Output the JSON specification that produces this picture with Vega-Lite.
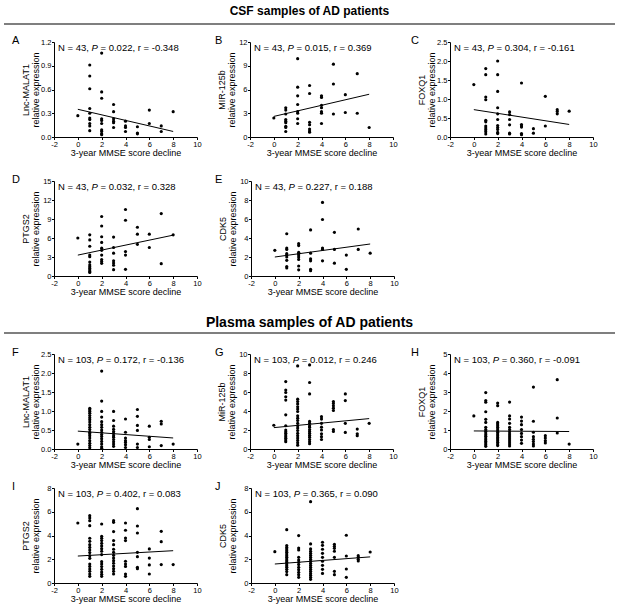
{
"$schema": "https://vega.github.io/schema/vega-lite/v6.json",
"padding": {"left": 3, "right": 3, "top": 5, "bottom": 0},
"background": "white",
"config": {
  "font": "Liberation Sans",
  "view": {"stroke": null},
  "axis": {"grid": false, "domainColor": "black", "tickColor": "black", "labelColor": "black", "titleColor": "black", "labelFontSize": 7.5, "titleFontSize": 9, "titleFontWeight": "normal", "tickSize": 2.5, "domainWidth": 1, "tickWidth": 1, "labelPadding": 0.5, "labelFlush": false, "labelOverlap": false, "tickCount": 20},
  "axisX": {"titlePadding": 1},
  "axisY": {"titleX": -24, "titleLineHeight": 10},
  "title": {"anchor": "start", "frame": "bounds", "fontSize": 11, "fontWeight": "normal", "color": "black", "dx": -2, "offset": -8},
  "text": {"font": "Liberation Sans", "fontSize": 9.5, "color": "black"}
},
"datasets": {
  "pts": [
    {"p":"A","x":0,"y":0.27},{"p":"A","x":1,"y":0.91},{"p":"A","x":1,"y":0.77},{"p":"A","x":1,"y":0.61},{"p":"A","x":1,"y":0.36},{"p":"A","x":1,"y":0.30},{"p":"A","x":1,"y":0.24},{"p":"A","x":1,"y":0.22},{"p":"A","x":1,"y":0.17},{"p":"A","x":1,"y":0.14},{"p":"A","x":1,"y":0.08},
    {"p":"A","x":2,"y":1.06},{"p":"A","x":2,"y":0.57},{"p":"A","x":2,"y":0.49},{"p":"A","x":2,"y":0.23},{"p":"A","x":2,"y":0.21},{"p":"A","x":2,"y":0.17},{"p":"A","x":2,"y":0.09},{"p":"A","x":2,"y":0.07},{"p":"A","x":2,"y":0.04},{"p":"A","x":2,"y":0.03},
    {"p":"A","x":3,"y":0.41},{"p":"A","x":3,"y":0.32},{"p":"A","x":3,"y":0.23},{"p":"A","x":3,"y":0.20},{"p":"A","x":3,"y":0.18},{"p":"A","x":3,"y":0.12},
    {"p":"A","x":4,"y":0.20},{"p":"A","x":4,"y":0.14},{"p":"A","x":4,"y":0.12},{"p":"A","x":4,"y":0.07},
    {"p":"A","x":5,"y":0.13},{"p":"A","x":5,"y":0.05},{"p":"A","x":5,"y":0.04},{"p":"A","x":6,"y":0.34},{"p":"A","x":6,"y":0.17},{"p":"A","x":7,"y":0.14},{"p":"A","x":7,"y":0.07},{"p":"A","x":8,"y":0.32},

    {"p":"B","x":0,"y":2.4},{"p":"B","x":1,"y":3.7},{"p":"B","x":1,"y":3.4},{"p":"B","x":1,"y":2.9},{"p":"B","x":1,"y":2.2},{"p":"B","x":1,"y":2.0},{"p":"B","x":1,"y":1.8},{"p":"B","x":1,"y":1.35},{"p":"B","x":1,"y":1.2},{"p":"B","x":1,"y":0.7},
    {"p":"B","x":2,"y":9.9},{"p":"B","x":2,"y":6.3},{"p":"B","x":2,"y":5.2},{"p":"B","x":2,"y":4.1},{"p":"B","x":2,"y":3.2},{"p":"B","x":2,"y":3.0},{"p":"B","x":2,"y":2.3},{"p":"B","x":2,"y":1.7},
    {"p":"B","x":3,"y":6.5},{"p":"B","x":3,"y":5.5},{"p":"B","x":3,"y":1.85},{"p":"B","x":3,"y":1.55},{"p":"B","x":3,"y":1.0},{"p":"B","x":3,"y":0.75},{"p":"B","x":3,"y":0.6},
    {"p":"B","x":4,"y":5.2},{"p":"B","x":4,"y":5.0},{"p":"B","x":4,"y":4.0},{"p":"B","x":4,"y":3.7},{"p":"B","x":4,"y":3.2},{"p":"B","x":4,"y":3.0},{"p":"B","x":4,"y":1.7},
    {"p":"B","x":5,"y":9.2},{"p":"B","x":5,"y":6.7},{"p":"B","x":5,"y":2.9},{"p":"B","x":6,"y":5.35},{"p":"B","x":6,"y":3.1},{"p":"B","x":7,"y":8.0},{"p":"B","x":7,"y":3.0},{"p":"B","x":8,"y":1.2},

    {"p":"C","x":0,"y":1.38},{"p":"C","x":1,"y":1.8},{"p":"C","x":1,"y":1.64},{"p":"C","x":1,"y":1.05},{"p":"C","x":1,"y":0.98},{"p":"C","x":1,"y":0.44},{"p":"C","x":1,"y":0.40},{"p":"C","x":1,"y":0.29},{"p":"C","x":1,"y":0.24},{"p":"C","x":1,"y":0.19},{"p":"C","x":1,"y":0.14},{"p":"C","x":1,"y":0.08},
    {"p":"C","x":2,"y":2.0},{"p":"C","x":2,"y":1.64},{"p":"C","x":2,"y":1.2},{"p":"C","x":2,"y":0.77},{"p":"C","x":2,"y":0.61},{"p":"C","x":2,"y":0.46},{"p":"C","x":2,"y":0.30},{"p":"C","x":2,"y":0.25},{"p":"C","x":2,"y":0.20},{"p":"C","x":2,"y":0.12},{"p":"C","x":2,"y":0.09},
    {"p":"C","x":3,"y":0.66},{"p":"C","x":3,"y":0.59},{"p":"C","x":3,"y":0.46},{"p":"C","x":3,"y":0.32},{"p":"C","x":3,"y":0.10},{"p":"C","x":3,"y":0.08},
    {"p":"C","x":4,"y":1.42},{"p":"C","x":4,"y":0.33},{"p":"C","x":4,"y":0.29},{"p":"C","x":4,"y":0.26},{"p":"C","x":4,"y":0.09},{"p":"C","x":4,"y":0.06},
    {"p":"C","x":5,"y":0.22},{"p":"C","x":5,"y":0.10},{"p":"C","x":6,"y":1.07},{"p":"C","x":6,"y":0.29},{"p":"C","x":7,"y":0.72},{"p":"C","x":7,"y":0.67},{"p":"C","x":7,"y":0.61},{"p":"C","x":8,"y":0.68},

    {"p":"D","x":0,"y":6.0},{"p":"D","x":1,"y":6.5},{"p":"D","x":1,"y":5.7},{"p":"D","x":1,"y":4.7},{"p":"D","x":1,"y":3.3},{"p":"D","x":1,"y":3.05},{"p":"D","x":1,"y":2.2},{"p":"D","x":1,"y":1.75},{"p":"D","x":1,"y":1.45},{"p":"D","x":1,"y":1.2},{"p":"D","x":1,"y":0.95},{"p":"D","x":1,"y":0.7},{"p":"D","x":1,"y":0.55},
    {"p":"D","x":2,"y":9.4},{"p":"D","x":2,"y":7.9},{"p":"D","x":2,"y":6.2},{"p":"D","x":2,"y":5.3},{"p":"D","x":2,"y":4.4},{"p":"D","x":2,"y":4.05},{"p":"D","x":2,"y":3.3},{"p":"D","x":2,"y":2.6},{"p":"D","x":2,"y":2.3},{"p":"D","x":2,"y":2.0},
    {"p":"D","x":3,"y":6.15},{"p":"D","x":3,"y":4.5},{"p":"D","x":3,"y":3.6},{"p":"D","x":3,"y":2.4},{"p":"D","x":3,"y":2.05},{"p":"D","x":3,"y":1.7},{"p":"D","x":3,"y":1.0},
    {"p":"D","x":4,"y":10.5},{"p":"D","x":4,"y":8.8},{"p":"D","x":4,"y":3.85},{"p":"D","x":4,"y":3.3},{"p":"D","x":4,"y":1.05},
    {"p":"D","x":5,"y":7.7},{"p":"D","x":5,"y":6.6},{"p":"D","x":5,"y":5.0},{"p":"D","x":6,"y":6.6},{"p":"D","x":6,"y":4.5},{"p":"D","x":7,"y":9.85},{"p":"D","x":7,"y":1.95},{"p":"D","x":8,"y":6.5},

    {"p":"E","x":0,"y":2.7},{"p":"E","x":1,"y":4.45},{"p":"E","x":1,"y":2.95},{"p":"E","x":1,"y":2.8},{"p":"E","x":1,"y":2.35},{"p":"E","x":1,"y":2.2},{"p":"E","x":1,"y":2.0},{"p":"E","x":1,"y":1.65},{"p":"E","x":1,"y":1.0},{"p":"E","x":1,"y":0.85},
    {"p":"E","x":2,"y":3.4},{"p":"E","x":2,"y":3.2},{"p":"E","x":2,"y":2.5},{"p":"E","x":2,"y":2.35},{"p":"E","x":2,"y":2.2},{"p":"E","x":2,"y":2.0},{"p":"E","x":2,"y":1.75},{"p":"E","x":2,"y":1.05},{"p":"E","x":2,"y":0.65},
    {"p":"E","x":3,"y":4.85},{"p":"E","x":3,"y":2.4},{"p":"E","x":3,"y":1.8},{"p":"E","x":3,"y":1.6},{"p":"E","x":3,"y":0.7},{"p":"E","x":3,"y":0.55},
    {"p":"E","x":4,"y":7.75},{"p":"E","x":4,"y":5.95},{"p":"E","x":4,"y":2.95},{"p":"E","x":4,"y":2.8},{"p":"E","x":4,"y":1.6},
    {"p":"E","x":5,"y":4.6},{"p":"E","x":5,"y":2.8},{"p":"E","x":5,"y":1.35},{"p":"E","x":6,"y":2.2},{"p":"E","x":6,"y":0.7},{"p":"E","x":7,"y":4.95},{"p":"E","x":7,"y":2.8},{"p":"E","x":8,"y":2.4},

    {"p":"F","x":0,"y":0.13},
    {"p":"F","x":1,"y":1.07},{"p":"F","x":1,"y":1.03},{"p":"F","x":1,"y":0.99},{"p":"F","x":1,"y":0.94},{"p":"F","x":1,"y":0.88},{"p":"F","x":1,"y":0.82},{"p":"F","x":1,"y":0.77},{"p":"F","x":1,"y":0.71},{"p":"F","x":1,"y":0.64},{"p":"F","x":1,"y":0.57},{"p":"F","x":1,"y":0.51},{"p":"F","x":1,"y":0.44},{"p":"F","x":1,"y":0.40},{"p":"F","x":1,"y":0.35},{"p":"F","x":1,"y":0.29},{"p":"F","x":1,"y":0.22},{"p":"F","x":1,"y":0.15},{"p":"F","x":1,"y":0.09},{"p":"F","x":1,"y":0.03},
    {"p":"F","x":2,"y":2.05},{"p":"F","x":2,"y":1.26},{"p":"F","x":2,"y":0.99},{"p":"F","x":2,"y":0.84},{"p":"F","x":2,"y":0.72},{"p":"F","x":2,"y":0.64},{"p":"F","x":2,"y":0.57},{"p":"F","x":2,"y":0.50},{"p":"F","x":2,"y":0.44},{"p":"F","x":2,"y":0.38},{"p":"F","x":2,"y":0.33},{"p":"F","x":2,"y":0.27},{"p":"F","x":2,"y":0.20},{"p":"F","x":2,"y":0.13},{"p":"F","x":2,"y":0.06},{"p":"F","x":2,"y":0.02},
    {"p":"F","x":3,"y":0.99},{"p":"F","x":3,"y":0.75},{"p":"F","x":3,"y":0.60},{"p":"F","x":3,"y":0.52},{"p":"F","x":3,"y":0.46},{"p":"F","x":3,"y":0.41},{"p":"F","x":3,"y":0.35},{"p":"F","x":3,"y":0.31},{"p":"F","x":3,"y":0.25},{"p":"F","x":3,"y":0.19},{"p":"F","x":3,"y":0.13},{"p":"F","x":3,"y":0.07},
    {"p":"F","x":4,"y":0.79},{"p":"F","x":4,"y":0.44},{"p":"F","x":4,"y":0.29},{"p":"F","x":4,"y":0.22},{"p":"F","x":4,"y":0.17},{"p":"F","x":4,"y":0.11},{"p":"F","x":4,"y":0.04},
    {"p":"F","x":5,"y":1.04},{"p":"F","x":5,"y":0.86},{"p":"F","x":5,"y":0.62},{"p":"F","x":5,"y":0.49},{"p":"F","x":5,"y":0.13},{"p":"F","x":5,"y":0.04},
    {"p":"F","x":6,"y":0.60},{"p":"F","x":6,"y":0.31},{"p":"F","x":6,"y":0.25},{"p":"F","x":6,"y":0.06},{"p":"F","x":7,"y":0.73},{"p":"F","x":7,"y":0.66},{"p":"F","x":7,"y":0.09},{"p":"F","x":8,"y":0.13},

    {"p":"G","x":0,"y":2.5},
    {"p":"G","x":1,"y":7.1},{"p":"G","x":1,"y":6.2},{"p":"G","x":1,"y":5.95},{"p":"G","x":1,"y":5.5},{"p":"G","x":1,"y":5.15},{"p":"G","x":1,"y":3.6},{"p":"G","x":1,"y":2.45},{"p":"G","x":1,"y":2.0},{"p":"G","x":1,"y":1.82},{"p":"G","x":1,"y":1.65},{"p":"G","x":1,"y":1.47},{"p":"G","x":1,"y":1.3},{"p":"G","x":1,"y":1.12},{"p":"G","x":1,"y":0.95},{"p":"G","x":1,"y":0.77},
    {"p":"G","x":2,"y":8.75},{"p":"G","x":2,"y":5.25},{"p":"G","x":2,"y":5.0},{"p":"G","x":2,"y":4.75},{"p":"G","x":2,"y":4.45},{"p":"G","x":2,"y":4.2},{"p":"G","x":2,"y":3.95},{"p":"G","x":2,"y":3.5},{"p":"G","x":2,"y":3.25},{"p":"G","x":2,"y":3.0},{"p":"G","x":2,"y":2.7},{"p":"G","x":2,"y":2.45},{"p":"G","x":2,"y":2.2},{"p":"G","x":2,"y":1.95},{"p":"G","x":2,"y":1.65},{"p":"G","x":2,"y":1.4},{"p":"G","x":2,"y":1.15},{"p":"G","x":2,"y":0.9},{"p":"G","x":2,"y":0.65},{"p":"G","x":2,"y":0.4},
    {"p":"G","x":3,"y":8.85},{"p":"G","x":3,"y":7.0},{"p":"G","x":3,"y":5.8},{"p":"G","x":3,"y":2.9},{"p":"G","x":3,"y":2.7},{"p":"G","x":3,"y":2.45},{"p":"G","x":3,"y":2.3},{"p":"G","x":3,"y":2.05},{"p":"G","x":3,"y":1.85},{"p":"G","x":3,"y":1.65},{"p":"G","x":3,"y":1.45},{"p":"G","x":3,"y":1.25},{"p":"G","x":3,"y":1.0},{"p":"G","x":3,"y":0.77},{"p":"G","x":3,"y":0.55},
    {"p":"G","x":4,"y":3.4},{"p":"G","x":4,"y":3.15},{"p":"G","x":4,"y":2.7},{"p":"G","x":4,"y":2.3},{"p":"G","x":4,"y":2.0},{"p":"G","x":4,"y":1.6},{"p":"G","x":4,"y":1.3},{"p":"G","x":4,"y":1.0},
    {"p":"G","x":5,"y":5.0},{"p":"G","x":5,"y":4.8},{"p":"G","x":5,"y":4.55},{"p":"G","x":5,"y":4.3},{"p":"G","x":5,"y":4.05},{"p":"G","x":5,"y":2.05},{"p":"G","x":5,"y":1.85},
    {"p":"G","x":6,"y":5.8},{"p":"G","x":6,"y":5.1},{"p":"G","x":6,"y":2.7},{"p":"G","x":6,"y":1.75},{"p":"G","x":7,"y":2.1},{"p":"G","x":7,"y":1.6},{"p":"G","x":7,"y":1.4},{"p":"G","x":8,"y":2.7},

    {"p":"H","x":0,"y":1.74},
    {"p":"H","x":1,"y":2.97},{"p":"H","x":1,"y":2.55},{"p":"H","x":1,"y":2.46},{"p":"H","x":1,"y":1.96},{"p":"H","x":1,"y":1.56},{"p":"H","x":1,"y":1.4},{"p":"H","x":1,"y":1.14},{"p":"H","x":1,"y":1.02},{"p":"H","x":1,"y":0.93},{"p":"H","x":1,"y":0.84},{"p":"H","x":1,"y":0.75},{"p":"H","x":1,"y":0.67},{"p":"H","x":1,"y":0.58},{"p":"H","x":1,"y":0.49},{"p":"H","x":1,"y":0.4},{"p":"H","x":1,"y":0.32},{"p":"H","x":1,"y":0.23},{"p":"H","x":1,"y":0.14},
    {"p":"H","x":2,"y":2.42},{"p":"H","x":2,"y":2.28},{"p":"H","x":2,"y":1.4},{"p":"H","x":2,"y":1.32},{"p":"H","x":2,"y":1.23},{"p":"H","x":2,"y":1.14},{"p":"H","x":2,"y":1.05},{"p":"H","x":2,"y":0.96},{"p":"H","x":2,"y":0.88},{"p":"H","x":2,"y":0.79},{"p":"H","x":2,"y":0.7},{"p":"H","x":2,"y":0.61},{"p":"H","x":2,"y":0.53},{"p":"H","x":2,"y":0.44},{"p":"H","x":2,"y":0.35},{"p":"H","x":2,"y":0.26},{"p":"H","x":2,"y":0.18},
    {"p":"H","x":3,"y":2.47},{"p":"H","x":3,"y":1.74},{"p":"H","x":3,"y":1.58},{"p":"H","x":3,"y":1.35},{"p":"H","x":3,"y":1.14},{"p":"H","x":3,"y":1.02},{"p":"H","x":3,"y":0.91},{"p":"H","x":3,"y":0.79},{"p":"H","x":3,"y":0.68},{"p":"H","x":3,"y":0.58},{"p":"H","x":3,"y":0.47},{"p":"H","x":3,"y":0.37},{"p":"H","x":3,"y":0.26},{"p":"H","x":3,"y":0.16},
    {"p":"H","x":4,"y":1.68},{"p":"H","x":4,"y":1.47},{"p":"H","x":4,"y":1.28},{"p":"H","x":4,"y":1.02},{"p":"H","x":4,"y":0.82},{"p":"H","x":4,"y":0.65},{"p":"H","x":4,"y":0.47},{"p":"H","x":4,"y":0.3},
    {"p":"H","x":5,"y":3.26},{"p":"H","x":5,"y":1.46},{"p":"H","x":5,"y":0.88},{"p":"H","x":5,"y":0.65},{"p":"H","x":5,"y":0.51},{"p":"H","x":5,"y":0.39},{"p":"H","x":5,"y":0.26},{"p":"H","x":5,"y":0.16},
    {"p":"H","x":6,"y":0.7},{"p":"H","x":6,"y":0.58},{"p":"H","x":6,"y":0.44},{"p":"H","x":6,"y":0.32},{"p":"H","x":7,"y":3.65},{"p":"H","x":7,"y":1.63},{"p":"H","x":7,"y":0.84},{"p":"H","x":8,"y":0.26},

    {"p":"I","x":0,"y":5.05},
    {"p":"I","x":1,"y":5.67},{"p":"I","x":1,"y":5.48},{"p":"I","x":1,"y":5.25},{"p":"I","x":1,"y":4.83},{"p":"I","x":1,"y":3.77},{"p":"I","x":1,"y":3.51},{"p":"I","x":1,"y":3.23},{"p":"I","x":1,"y":3.0},{"p":"I","x":1,"y":2.78},{"p":"I","x":1,"y":2.56},{"p":"I","x":1,"y":2.3},{"p":"I","x":1,"y":2.08},{"p":"I","x":1,"y":1.6},{"p":"I","x":1,"y":1.4},{"p":"I","x":1,"y":1.18},{"p":"I","x":1,"y":0.98},{"p":"I","x":1,"y":0.76},{"p":"I","x":1,"y":0.56},
    {"p":"I","x":2,"y":4.97},{"p":"I","x":2,"y":3.93},{"p":"I","x":2,"y":3.77},{"p":"I","x":2,"y":3.57},{"p":"I","x":2,"y":3.34},{"p":"I","x":2,"y":3.12},{"p":"I","x":2,"y":2.89},{"p":"I","x":2,"y":2.67},{"p":"I","x":2,"y":2.39},{"p":"I","x":2,"y":1.8},{"p":"I","x":2,"y":1.6},{"p":"I","x":2,"y":1.38},{"p":"I","x":2,"y":1.15},{"p":"I","x":2,"y":0.93},{"p":"I","x":2,"y":0.73},{"p":"I","x":2,"y":0.56},
    {"p":"I","x":3,"y":5.25},{"p":"I","x":3,"y":5.11},{"p":"I","x":3,"y":4.33},{"p":"I","x":3,"y":3.57},{"p":"I","x":3,"y":3.23},{"p":"I","x":3,"y":2.84},{"p":"I","x":3,"y":2.58},{"p":"I","x":3,"y":2.33},{"p":"I","x":3,"y":2.1},{"p":"I","x":3,"y":1.88},{"p":"I","x":3,"y":1.66},{"p":"I","x":3,"y":1.43},{"p":"I","x":3,"y":1.21},{"p":"I","x":3,"y":0.98},{"p":"I","x":3,"y":0.76},
    {"p":"I","x":4,"y":5.05},{"p":"I","x":4,"y":4.44},{"p":"I","x":4,"y":3.79},{"p":"I","x":4,"y":3.57},{"p":"I","x":4,"y":1.83},{"p":"I","x":4,"y":1.6},{"p":"I","x":4,"y":1.4},{"p":"I","x":4,"y":0.76},{"p":"I","x":4,"y":0.56},
    {"p":"I","x":5,"y":6.26},{"p":"I","x":5,"y":4.8},{"p":"I","x":5,"y":4.21},{"p":"I","x":5,"y":2.58},{"p":"I","x":5,"y":2.22},{"p":"I","x":5,"y":1.32},{"p":"I","x":5,"y":1.21},
    {"p":"I","x":6,"y":2.87},{"p":"I","x":6,"y":2.1},{"p":"I","x":6,"y":1.52},{"p":"I","x":6,"y":0.76},{"p":"I","x":7,"y":4.35},{"p":"I","x":7,"y":3.48},{"p":"I","x":7,"y":1.55},{"p":"I","x":8,"y":1.55},

    {"p":"J","x":0,"y":2.64},
    {"p":"J","x":1,"y":4.49},{"p":"J","x":1,"y":3.15},{"p":"J","x":1,"y":3.0},{"p":"J","x":1,"y":2.86},{"p":"J","x":1,"y":2.72},{"p":"J","x":1,"y":2.58},{"p":"J","x":1,"y":2.44},{"p":"J","x":1,"y":2.3},{"p":"J","x":1,"y":2.16},{"p":"J","x":1,"y":2.02},{"p":"J","x":1,"y":1.88},{"p":"J","x":1,"y":1.74},{"p":"J","x":1,"y":1.6},{"p":"J","x":1,"y":1.46},{"p":"J","x":1,"y":1.32},{"p":"J","x":1,"y":1.15},{"p":"J","x":1,"y":0.96},{"p":"J","x":1,"y":0.7},
    {"p":"J","x":2,"y":3.99},{"p":"J","x":2,"y":2.95},{"p":"J","x":2,"y":2.78},{"p":"J","x":2,"y":2.16},{"p":"J","x":2,"y":1.94},{"p":"J","x":2,"y":1.74},{"p":"J","x":2,"y":1.55},{"p":"J","x":2,"y":1.32},{"p":"J","x":2,"y":1.12},{"p":"J","x":2,"y":0.9},{"p":"J","x":2,"y":0.7},{"p":"J","x":2,"y":0.48},
    {"p":"J","x":3,"y":6.85},{"p":"J","x":3,"y":3.29},{"p":"J","x":3,"y":2.87},{"p":"J","x":3,"y":2.67},{"p":"J","x":3,"y":2.5},{"p":"J","x":3,"y":2.33},{"p":"J","x":3,"y":2.16},{"p":"J","x":3,"y":1.99},{"p":"J","x":3,"y":1.83},{"p":"J","x":3,"y":1.66},{"p":"J","x":3,"y":1.49},{"p":"J","x":3,"y":1.32},{"p":"J","x":3,"y":1.15},{"p":"J","x":3,"y":0.98},{"p":"J","x":3,"y":0.81},{"p":"J","x":3,"y":0.65},{"p":"J","x":3,"y":0.48},{"p":"J","x":3,"y":0.31},
    {"p":"J","x":4,"y":3.43},{"p":"J","x":4,"y":3.17},{"p":"J","x":4,"y":2.84},{"p":"J","x":4,"y":2.5},{"p":"J","x":4,"y":2.16},{"p":"J","x":4,"y":1.83},{"p":"J","x":4,"y":1.49},{"p":"J","x":4,"y":1.15},{"p":"J","x":4,"y":0.81},
    {"p":"J","x":5,"y":3.26},{"p":"J","x":5,"y":3.09},{"p":"J","x":5,"y":2.92},{"p":"J","x":5,"y":2.67},{"p":"J","x":5,"y":2.16},{"p":"J","x":5,"y":0.98},{"p":"J","x":5,"y":0.7},
    {"p":"J","x":6,"y":4.02},{"p":"J","x":6,"y":2.27},{"p":"J","x":6,"y":1.18},{"p":"J","x":6,"y":0.48},{"p":"J","x":7,"y":2.3},{"p":"J","x":7,"y":2.16},{"p":"J","x":7,"y":1.99},{"p":"J","x":7,"y":1.85},{"p":"J","x":8,"y":2.61}
  ],
  "fit": [
    {"p":"A","x":0,"y":0.35},{"p":"A","x":8,"y":0.07},
    {"p":"B","x":0,"y":2.6},{"p":"B","x":8,"y":5.4},
    {"p":"C","x":0,"y":0.72},{"p":"C","x":8,"y":0.33},
    {"p":"D","x":0,"y":3.3},{"p":"D","x":8,"y":6.45},
    {"p":"E","x":0,"y":2.0},{"p":"E","x":8,"y":3.37},
    {"p":"F","x":0,"y":0.47},{"p":"F","x":8,"y":0.29},
    {"p":"G","x":0,"y":2.25},{"p":"G","x":8,"y":3.2},
    {"p":"H","x":0,"y":0.95},{"p":"H","x":8,"y":0.92},
    {"p":"I","x":0,"y":2.27},{"p":"I","x":8,"y":2.72},
    {"p":"J","x":0,"y":1.6},{"p":"J","x":8,"y":2.2}
  ],
  "ann": [
    {"p":"A","n":"N = 43,","s":"P","r":"= 0.022, r = -0.348"},
    {"p":"B","n":"N = 43,","s":"P","r":"= 0.015, r = 0.369"},
    {"p":"C","n":"N = 43,","s":"P","r":"= 0.304, r = -0.161"},
    {"p":"D","n":"N = 43,","s":"P","r":"= 0.032, r = 0.328"},
    {"p":"E","n":"N = 43,","s":"P","r":"= 0.227, r = 0.188"},
    {"p":"F","n":"N = 103,","s":"P","r":"= 0.172, r = -0.136"},
    {"p":"G","n":"N = 103,","s":"P","r":"= 0.012, r = 0.246"},
    {"p":"H","n":"N = 103,","s":"P","r":"= 0.360, r = -0.091"},
    {"p":"I","n":"N = 103,","s":"P","r":"= 0.402, r = 0.083"},
    {"p":"J","n":"N = 103,","s":"P","r":"= 0.365, r = 0.090"}
  ]
},
"spacing": 19,
"vconcat": [
  {
    "spacing": 10,
    "vconcat": [
      {
        "width": 611, "height": 1,
        "data": {"values": [{"a": 0, "b": 1}]},
        "title": {"text": "CSF samples of AD patients", "anchor": "middle", "frame": "group", "fontSize": 12, "fontWeight": "bold", "offset": 5, "dx": 0},
        "mark": {"type": "rule", "color": "black", "strokeWidth": 1.2},
        "encoding": {
          "x": {"field": "a", "type": "quantitative", "scale": {"domain": [0, 1]}, "axis": null},
          "x2": {"field": "b"},
          "y": {"datum": 0, "type": "quantitative", "scale": {"domain": [0, 1]}, "axis": null}
        }
      },
      {
        "spacing": 16,
        "vconcat": [
          {
            "spacing": 6,
            "hconcat": [
              {"width": 1, "height": 95, "data": {"values": []}, "mark": {"type": "point", "opacity": 0}, "encoding": {}},
              {
                "spacing": 12,
                "hconcat": [
                  {"width": 143, "height": 95, "title": {"text": "A", "dx": -9}, "layer": [
                    {"data": {"name": "pts"}, "transform": [{"filter": "datum.p === 'A'"}], "mark": {"type": "circle", "size": 10, "opacity": 1, "color": "black"},
                     "encoding": {"x": {"field": "x", "type": "quantitative", "scale": {"domain": [-2, 10], "nice": false}, "axis": {"values": [-2,0,2,4,6,8,10], "labelExpr": "'' + datum.value", "title": "3-year MMSE score decline"}},
                                  "y": {"field": "y", "type": "quantitative", "scale": {"domain": [0, 1.2], "nice": false}, "axis": {"values": [0,0.3,0.6,0.9,1.2], "format": ".1f", "title": ["Lnc-MALAT1", "relative expression"]}}}},
                    {"data": {"name": "fit"}, "transform": [{"filter": "datum.p === 'A'"}], "mark": {"type": "line", "color": "black", "strokeWidth": 1}, "encoding": {"x": {"field": "x", "type": "quantitative"}, "y": {"field": "y", "type": "quantitative"}}},
                    {"data": {"name": "ann"}, "transform": [{"filter": "datum.p === 'A'"}], "mark": {"type": "text", "align": "left", "baseline": "middle", "dx": 4, "dy": 6}, "encoding": {"x": {"datum": -2, "type": "quantitative"}, "y": {"datum": 1.2, "type": "quantitative"}, "text": {"field": "n"}}},
                    {"data": {"name": "ann"}, "transform": [{"filter": "datum.p === 'A'"}], "mark": {"type": "text", "align": "left", "baseline": "middle", "dx": 37.5, "dy": 6, "fontStyle": "italic"}, "encoding": {"x": {"datum": -2, "type": "quantitative"}, "y": {"datum": 1.2, "type": "quantitative"}, "text": {"field": "s"}}},
                    {"data": {"name": "ann"}, "transform": [{"filter": "datum.p === 'A'"}], "mark": {"type": "text", "align": "left", "baseline": "middle", "dx": 46.5, "dy": 6}, "encoding": {"x": {"datum": -2, "type": "quantitative"}, "y": {"datum": 1.2, "type": "quantitative"}, "text": {"field": "r"}}}
                  ]},
                  {"width": 143, "height": 95, "title": {"text": "B", "dx": -2}, "layer": [
                    {"data": {"name": "pts"}, "transform": [{"filter": "datum.p === 'B'"}], "mark": {"type": "circle", "size": 10, "opacity": 1, "color": "black"},
                     "encoding": {"x": {"field": "x", "type": "quantitative", "scale": {"domain": [-2, 10], "nice": false}, "axis": {"values": [-2,0,2,4,6,8,10], "labelExpr": "'' + datum.value", "title": "3-year MMSE score decline"}},
                                  "y": {"field": "y", "type": "quantitative", "scale": {"domain": [0, 12], "nice": false}, "axis": {"values": [0,3,6,9,12], "format": "d", "title": ["MIR-125b", "relative expression"]}}}},
                    {"data": {"name": "fit"}, "transform": [{"filter": "datum.p === 'B'"}], "mark": {"type": "line", "color": "black", "strokeWidth": 1}, "encoding": {"x": {"field": "x", "type": "quantitative"}, "y": {"field": "y", "type": "quantitative"}}},
                    {"data": {"name": "ann"}, "transform": [{"filter": "datum.p === 'B'"}], "mark": {"type": "text", "align": "left", "baseline": "middle", "dx": 4, "dy": 6}, "encoding": {"x": {"datum": -2, "type": "quantitative"}, "y": {"datum": 12, "type": "quantitative"}, "text": {"field": "n"}}},
                    {"data": {"name": "ann"}, "transform": [{"filter": "datum.p === 'B'"}], "mark": {"type": "text", "align": "left", "baseline": "middle", "dx": 37.5, "dy": 6, "fontStyle": "italic"}, "encoding": {"x": {"datum": -2, "type": "quantitative"}, "y": {"datum": 12, "type": "quantitative"}, "text": {"field": "s"}}},
                    {"data": {"name": "ann"}, "transform": [{"filter": "datum.p === 'B'"}], "mark": {"type": "text", "align": "left", "baseline": "middle", "dx": 46.5, "dy": 6}, "encoding": {"x": {"datum": -2, "type": "quantitative"}, "y": {"datum": 12, "type": "quantitative"}, "text": {"field": "r"}}}
                  ]},
                  {"width": 143, "height": 95, "title": {"text": "C", "dx": -6}, "layer": [
                    {"data": {"name": "pts"}, "transform": [{"filter": "datum.p === 'C'"}], "mark": {"type": "circle", "size": 10, "opacity": 1, "color": "black"},
                     "encoding": {"x": {"field": "x", "type": "quantitative", "scale": {"domain": [-2, 10], "nice": false}, "axis": {"values": [-2,0,2,4,6,8,10], "labelExpr": "'' + datum.value", "title": "3-year MMSE score decline"}},
                                  "y": {"field": "y", "type": "quantitative", "scale": {"domain": [0, 2.5], "nice": false}, "axis": {"values": [0,0.5,1,1.5,2,2.5], "format": ".1f", "title": ["FOXQ1", "relative expression"]}}}},
                    {"data": {"name": "fit"}, "transform": [{"filter": "datum.p === 'C'"}], "mark": {"type": "line", "color": "black", "strokeWidth": 1}, "encoding": {"x": {"field": "x", "type": "quantitative"}, "y": {"field": "y", "type": "quantitative"}}},
                    {"data": {"name": "ann"}, "transform": [{"filter": "datum.p === 'C'"}], "mark": {"type": "text", "align": "left", "baseline": "middle", "dx": 4, "dy": 6}, "encoding": {"x": {"datum": -2, "type": "quantitative"}, "y": {"datum": 2.5, "type": "quantitative"}, "text": {"field": "n"}}},
                    {"data": {"name": "ann"}, "transform": [{"filter": "datum.p === 'C'"}], "mark": {"type": "text", "align": "left", "baseline": "middle", "dx": 37.5, "dy": 6, "fontStyle": "italic"}, "encoding": {"x": {"datum": -2, "type": "quantitative"}, "y": {"datum": 2.5, "type": "quantitative"}, "text": {"field": "s"}}},
                    {"data": {"name": "ann"}, "transform": [{"filter": "datum.p === 'C'"}], "mark": {"type": "text", "align": "left", "baseline": "middle", "dx": 46.5, "dy": 6}, "encoding": {"x": {"datum": -2, "type": "quantitative"}, "y": {"datum": 2.5, "type": "quantitative"}, "text": {"field": "r"}}}
                  ]}
                ]
              }
            ]
          },
          {
            "spacing": 6,
            "hconcat": [
              {"width": 1, "height": 95, "data": {"values": []}, "mark": {"type": "point", "opacity": 0}, "encoding": {}},
              {
                "spacing": 12,
                "hconcat": [
                  {"width": 143, "height": 95, "title": {"text": "D", "dx": -9}, "layer": [
                    {"data": {"name": "pts"}, "transform": [{"filter": "datum.p === 'D'"}], "mark": {"type": "circle", "size": 10, "opacity": 1, "color": "black"},
                     "encoding": {"x": {"field": "x", "type": "quantitative", "scale": {"domain": [-2, 10], "nice": false}, "axis": {"values": [-2,0,2,4,6,8,10], "labelExpr": "'' + datum.value", "title": "3-year MMSE score decline"}},
                                  "y": {"field": "y", "type": "quantitative", "scale": {"domain": [0, 15], "nice": false}, "axis": {"values": [0,3,6,9,12,15], "format": "d", "title": ["PTGS2", "relative expression"]}}}},
                    {"data": {"name": "fit"}, "transform": [{"filter": "datum.p === 'D'"}], "mark": {"type": "line", "color": "black", "strokeWidth": 1}, "encoding": {"x": {"field": "x", "type": "quantitative"}, "y": {"field": "y", "type": "quantitative"}}},
                    {"data": {"name": "ann"}, "transform": [{"filter": "datum.p === 'D'"}], "mark": {"type": "text", "align": "left", "baseline": "middle", "dx": 4, "dy": 6}, "encoding": {"x": {"datum": -2, "type": "quantitative"}, "y": {"datum": 15, "type": "quantitative"}, "text": {"field": "n"}}},
                    {"data": {"name": "ann"}, "transform": [{"filter": "datum.p === 'D'"}], "mark": {"type": "text", "align": "left", "baseline": "middle", "dx": 37.5, "dy": 6, "fontStyle": "italic"}, "encoding": {"x": {"datum": -2, "type": "quantitative"}, "y": {"datum": 15, "type": "quantitative"}, "text": {"field": "s"}}},
                    {"data": {"name": "ann"}, "transform": [{"filter": "datum.p === 'D'"}], "mark": {"type": "text", "align": "left", "baseline": "middle", "dx": 46.5, "dy": 6}, "encoding": {"x": {"datum": -2, "type": "quantitative"}, "y": {"datum": 15, "type": "quantitative"}, "text": {"field": "r"}}}
                  ]},
                  {"width": 143, "height": 95, "title": {"text": "E", "dx": -3}, "layer": [
                    {"data": {"name": "pts"}, "transform": [{"filter": "datum.p === 'E'"}], "mark": {"type": "circle", "size": 10, "opacity": 1, "color": "black"},
                     "encoding": {"x": {"field": "x", "type": "quantitative", "scale": {"domain": [-2, 10], "nice": false}, "axis": {"values": [-2,0,2,4,6,8,10], "labelExpr": "'' + datum.value", "title": "3-year MMSE score decline"}},
                                  "y": {"field": "y", "type": "quantitative", "scale": {"domain": [0, 10], "nice": false}, "axis": {"values": [0,2,4,6,8,10], "format": "d", "title": ["CDK5", "relative expression"]}}}},
                    {"data": {"name": "fit"}, "transform": [{"filter": "datum.p === 'E'"}], "mark": {"type": "line", "color": "black", "strokeWidth": 1}, "encoding": {"x": {"field": "x", "type": "quantitative"}, "y": {"field": "y", "type": "quantitative"}}},
                    {"data": {"name": "ann"}, "transform": [{"filter": "datum.p === 'E'"}], "mark": {"type": "text", "align": "left", "baseline": "middle", "dx": 4, "dy": 6}, "encoding": {"x": {"datum": -2, "type": "quantitative"}, "y": {"datum": 10, "type": "quantitative"}, "text": {"field": "n"}}},
                    {"data": {"name": "ann"}, "transform": [{"filter": "datum.p === 'E'"}], "mark": {"type": "text", "align": "left", "baseline": "middle", "dx": 37.5, "dy": 6, "fontStyle": "italic"}, "encoding": {"x": {"datum": -2, "type": "quantitative"}, "y": {"datum": 10, "type": "quantitative"}, "text": {"field": "s"}}},
                    {"data": {"name": "ann"}, "transform": [{"filter": "datum.p === 'E'"}], "mark": {"type": "text", "align": "left", "baseline": "middle", "dx": 46.5, "dy": 6}, "encoding": {"x": {"datum": -2, "type": "quantitative"}, "y": {"datum": 10, "type": "quantitative"}, "text": {"field": "r"}}}
                  ]}
                ]
              }
            ]
          }
        ]
      }
    ]
  },
  {
    "spacing": 13,
    "vconcat": [
      {
        "width": 611, "height": 1,
        "data": {"values": [{"a": 0, "b": 1}]},
        "title": {"text": "Plasma samples of AD patients", "anchor": "middle", "frame": "group", "fontSize": 14, "fontWeight": "bold", "offset": 2, "dx": 0},
        "mark": {"type": "rule", "color": "black", "strokeWidth": 1.2},
        "encoding": {
          "x": {"field": "a", "type": "quantitative", "scale": {"domain": [0, 1]}, "axis": null},
          "x2": {"field": "b"},
          "y": {"datum": 0, "type": "quantitative", "scale": {"domain": [0, 1]}, "axis": null}
        }
      },
      {
        "spacing": 11,
        "vconcat": [
          {
            "spacing": 6,
            "hconcat": [
              {"width": 1, "height": 95, "data": {"values": []}, "mark": {"type": "point", "opacity": 0}, "encoding": {}},
              {
                "spacing": 12,
                "hconcat": [
                  {"width": 143, "height": 95, "title": {"text": "F", "dx": -9}, "layer": [
                    {"data": {"name": "pts"}, "transform": [{"filter": "datum.p === 'F'"}], "mark": {"type": "circle", "size": 10, "opacity": 1, "color": "black"},
                     "encoding": {"x": {"field": "x", "type": "quantitative", "scale": {"domain": [-2, 10], "nice": false}, "axis": {"values": [-2,0,2,4,6,8,10], "labelExpr": "'' + datum.value", "title": "3-year MMSE score decline"}},
                                  "y": {"field": "y", "type": "quantitative", "scale": {"domain": [0, 2.5], "nice": false}, "axis": {"values": [0,0.5,1,1.5,2,2.5], "format": ".1f", "title": ["Lnc-MALAT1", "relative expression"]}}}},
                    {"data": {"name": "fit"}, "transform": [{"filter": "datum.p === 'F'"}], "mark": {"type": "line", "color": "black", "strokeWidth": 1}, "encoding": {"x": {"field": "x", "type": "quantitative"}, "y": {"field": "y", "type": "quantitative"}}},
                    {"data": {"name": "ann"}, "transform": [{"filter": "datum.p === 'F'"}], "mark": {"type": "text", "align": "left", "baseline": "middle", "dx": 4, "dy": 6}, "encoding": {"x": {"datum": -2, "type": "quantitative"}, "y": {"datum": 2.5, "type": "quantitative"}, "text": {"field": "n"}}},
                    {"data": {"name": "ann"}, "transform": [{"filter": "datum.p === 'F'"}], "mark": {"type": "text", "align": "left", "baseline": "middle", "dx": 42.8, "dy": 6, "fontStyle": "italic"}, "encoding": {"x": {"datum": -2, "type": "quantitative"}, "y": {"datum": 2.5, "type": "quantitative"}, "text": {"field": "s"}}},
                    {"data": {"name": "ann"}, "transform": [{"filter": "datum.p === 'F'"}], "mark": {"type": "text", "align": "left", "baseline": "middle", "dx": 51.8, "dy": 6}, "encoding": {"x": {"datum": -2, "type": "quantitative"}, "y": {"datum": 2.5, "type": "quantitative"}, "text": {"field": "r"}}}
                  ]},
                  {"width": 143, "height": 95, "title": {"text": "G", "dx": -2}, "layer": [
                    {"data": {"name": "pts"}, "transform": [{"filter": "datum.p === 'G'"}], "mark": {"type": "circle", "size": 10, "opacity": 1, "color": "black"},
                     "encoding": {"x": {"field": "x", "type": "quantitative", "scale": {"domain": [-2, 10], "nice": false}, "axis": {"values": [-2,0,2,4,6,8,10], "labelExpr": "'' + datum.value", "title": "3-year MMSE score decline"}},
                                  "y": {"field": "y", "type": "quantitative", "scale": {"domain": [0, 10], "nice": false}, "axis": {"values": [0,2,4,6,8,10], "format": "d", "title": ["MiR-125b", "relative expression"]}}}},
                    {"data": {"name": "fit"}, "transform": [{"filter": "datum.p === 'G'"}], "mark": {"type": "line", "color": "black", "strokeWidth": 1}, "encoding": {"x": {"field": "x", "type": "quantitative"}, "y": {"field": "y", "type": "quantitative"}}},
                    {"data": {"name": "ann"}, "transform": [{"filter": "datum.p === 'G'"}], "mark": {"type": "text", "align": "left", "baseline": "middle", "dx": 4, "dy": 6}, "encoding": {"x": {"datum": -2, "type": "quantitative"}, "y": {"datum": 10, "type": "quantitative"}, "text": {"field": "n"}}},
                    {"data": {"name": "ann"}, "transform": [{"filter": "datum.p === 'G'"}], "mark": {"type": "text", "align": "left", "baseline": "middle", "dx": 42.8, "dy": 6, "fontStyle": "italic"}, "encoding": {"x": {"datum": -2, "type": "quantitative"}, "y": {"datum": 10, "type": "quantitative"}, "text": {"field": "s"}}},
                    {"data": {"name": "ann"}, "transform": [{"filter": "datum.p === 'G'"}], "mark": {"type": "text", "align": "left", "baseline": "middle", "dx": 51.8, "dy": 6}, "encoding": {"x": {"datum": -2, "type": "quantitative"}, "y": {"datum": 10, "type": "quantitative"}, "text": {"field": "r"}}}
                  ]},
                  {"width": 143, "height": 95, "title": {"text": "H", "dx": -6}, "layer": [
                    {"data": {"name": "pts"}, "transform": [{"filter": "datum.p === 'H'"}], "mark": {"type": "circle", "size": 10, "opacity": 1, "color": "black"},
                     "encoding": {"x": {"field": "x", "type": "quantitative", "scale": {"domain": [-2, 10], "nice": false}, "axis": {"values": [-2,0,2,4,6,8,10], "labelExpr": "'' + datum.value", "title": "3-year MMSE score decline"}},
                                  "y": {"field": "y", "type": "quantitative", "scale": {"domain": [0, 5], "nice": false}, "axis": {"values": [0,1,2,3,4,5], "format": "d", "title": ["FOXQ1", "relative expression"]}}}},
                    {"data": {"name": "fit"}, "transform": [{"filter": "datum.p === 'H'"}], "mark": {"type": "line", "color": "black", "strokeWidth": 1}, "encoding": {"x": {"field": "x", "type": "quantitative"}, "y": {"field": "y", "type": "quantitative"}}},
                    {"data": {"name": "ann"}, "transform": [{"filter": "datum.p === 'H'"}], "mark": {"type": "text", "align": "left", "baseline": "middle", "dx": 4, "dy": 6}, "encoding": {"x": {"datum": -2, "type": "quantitative"}, "y": {"datum": 5, "type": "quantitative"}, "text": {"field": "n"}}},
                    {"data": {"name": "ann"}, "transform": [{"filter": "datum.p === 'H'"}], "mark": {"type": "text", "align": "left", "baseline": "middle", "dx": 42.8, "dy": 6, "fontStyle": "italic"}, "encoding": {"x": {"datum": -2, "type": "quantitative"}, "y": {"datum": 5, "type": "quantitative"}, "text": {"field": "s"}}},
                    {"data": {"name": "ann"}, "transform": [{"filter": "datum.p === 'H'"}], "mark": {"type": "text", "align": "left", "baseline": "middle", "dx": 51.8, "dy": 6}, "encoding": {"x": {"datum": -2, "type": "quantitative"}, "y": {"datum": 5, "type": "quantitative"}, "text": {"field": "r"}}}
                  ]}
                ]
              }
            ]
          },
          {
            "spacing": 6,
            "hconcat": [
              {"width": 1, "height": 95, "data": {"values": []}, "mark": {"type": "point", "opacity": 0}, "encoding": {}},
              {
                "spacing": 12,
                "hconcat": [
                  {"width": 143, "height": 95, "title": {"text": "I", "dx": -9}, "layer": [
                    {"data": {"name": "pts"}, "transform": [{"filter": "datum.p === 'I'"}], "mark": {"type": "circle", "size": 10, "opacity": 1, "color": "black"},
                     "encoding": {"x": {"field": "x", "type": "quantitative", "scale": {"domain": [-2, 10], "nice": false}, "axis": {"values": [-2,0,2,4,6,8,10], "labelExpr": "'' + datum.value", "title": "3-year MMSE score decline"}},
                                  "y": {"field": "y", "type": "quantitative", "scale": {"domain": [0, 8], "nice": false}, "axis": {"values": [0,2,4,6,8], "format": "d", "title": ["PTGS2", "relative expression"]}}}},
                    {"data": {"name": "fit"}, "transform": [{"filter": "datum.p === 'I'"}], "mark": {"type": "line", "color": "black", "strokeWidth": 1}, "encoding": {"x": {"field": "x", "type": "quantitative"}, "y": {"field": "y", "type": "quantitative"}}},
                    {"data": {"name": "ann"}, "transform": [{"filter": "datum.p === 'I'"}], "mark": {"type": "text", "align": "left", "baseline": "middle", "dx": 4, "dy": 6}, "encoding": {"x": {"datum": -2, "type": "quantitative"}, "y": {"datum": 8, "type": "quantitative"}, "text": {"field": "n"}}},
                    {"data": {"name": "ann"}, "transform": [{"filter": "datum.p === 'I'"}], "mark": {"type": "text", "align": "left", "baseline": "middle", "dx": 42.8, "dy": 6, "fontStyle": "italic"}, "encoding": {"x": {"datum": -2, "type": "quantitative"}, "y": {"datum": 8, "type": "quantitative"}, "text": {"field": "s"}}},
                    {"data": {"name": "ann"}, "transform": [{"filter": "datum.p === 'I'"}], "mark": {"type": "text", "align": "left", "baseline": "middle", "dx": 51.8, "dy": 6}, "encoding": {"x": {"datum": -2, "type": "quantitative"}, "y": {"datum": 8, "type": "quantitative"}, "text": {"field": "r"}}}
                  ]},
                  {"width": 143, "height": 95, "title": {"text": "J", "dx": -3}, "layer": [
                    {"data": {"name": "pts"}, "transform": [{"filter": "datum.p === 'J'"}], "mark": {"type": "circle", "size": 10, "opacity": 1, "color": "black"},
                     "encoding": {"x": {"field": "x", "type": "quantitative", "scale": {"domain": [-2, 10], "nice": false}, "axis": {"values": [-2,0,2,4,6,8,10], "labelExpr": "'' + datum.value", "title": "3-year MMSE score decline"}},
                                  "y": {"field": "y", "type": "quantitative", "scale": {"domain": [0, 8], "nice": false}, "axis": {"values": [0,2,4,6,8], "format": "d", "title": ["CDK5", "relative expression"]}}}},
                    {"data": {"name": "fit"}, "transform": [{"filter": "datum.p === 'J'"}], "mark": {"type": "line", "color": "black", "strokeWidth": 1}, "encoding": {"x": {"field": "x", "type": "quantitative"}, "y": {"field": "y", "type": "quantitative"}}},
                    {"data": {"name": "ann"}, "transform": [{"filter": "datum.p === 'J'"}], "mark": {"type": "text", "align": "left", "baseline": "middle", "dx": 4, "dy": 6}, "encoding": {"x": {"datum": -2, "type": "quantitative"}, "y": {"datum": 8, "type": "quantitative"}, "text": {"field": "n"}}},
                    {"data": {"name": "ann"}, "transform": [{"filter": "datum.p === 'J'"}], "mark": {"type": "text", "align": "left", "baseline": "middle", "dx": 42.8, "dy": 6, "fontStyle": "italic"}, "encoding": {"x": {"datum": -2, "type": "quantitative"}, "y": {"datum": 8, "type": "quantitative"}, "text": {"field": "s"}}},
                    {"data": {"name": "ann"}, "transform": [{"filter": "datum.p === 'J'"}], "mark": {"type": "text", "align": "left", "baseline": "middle", "dx": 51.8, "dy": 6}, "encoding": {"x": {"datum": -2, "type": "quantitative"}, "y": {"datum": 8, "type": "quantitative"}, "text": {"field": "r"}}}
                  ]}
                ]
              }
            ]
          }
        ]
      }
    ]
  }
]
}
